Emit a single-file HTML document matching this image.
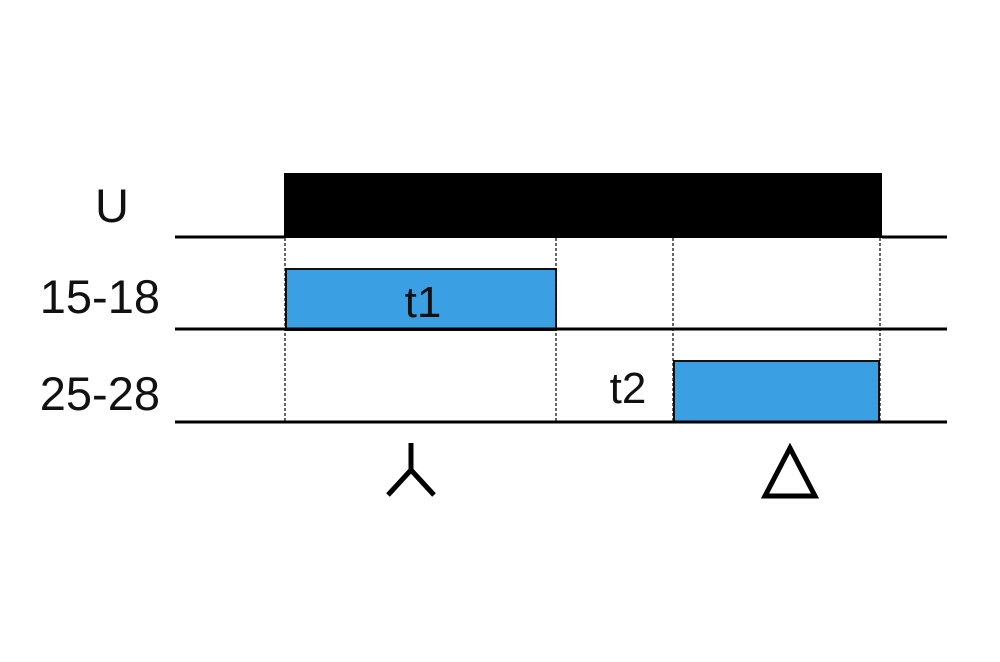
<!DOCTYPE html>
<html><head><style>body{margin:0;background:#fff}</style></head><body>
<svg width="1000" height="657" xmlns="http://www.w3.org/2000/svg" font-family="Liberation Sans, sans-serif">
<rect x="284" y="173" width="598" height="65" fill="#000"/>
<rect x="286" y="269" width="270" height="61" fill="#3b9fe3" stroke="#111" stroke-width="2"/>
<rect x="674" y="361" width="205" height="61" fill="#3b9fe3" stroke="#111" stroke-width="2"/>
<g stroke="#000" stroke-width="3">
<line x1="175" y1="237" x2="284" y2="237"/>
<line x1="882" y1="237" x2="947" y2="237"/>
<line x1="175" y1="329" x2="947" y2="329"/>
<line x1="175" y1="422" x2="947" y2="422"/>
</g>
<g stroke="#000" stroke-width="1.2" stroke-dasharray="3,2">
<line x1="285" y1="238" x2="285" y2="422"/>
<line x1="556" y1="238" x2="556" y2="422"/>
<line x1="673" y1="238" x2="673" y2="422"/>
<line x1="880" y1="238" x2="880" y2="422"/>
</g>
<g font-size="47" fill="#111">
<text x="112" y="222" text-anchor="middle">U</text>
<text x="160" y="313" text-anchor="end">15-18</text>
<text x="160" y="410" text-anchor="end">25-28</text>
<text x="423" y="317" text-anchor="middle" font-size="44">t1</text>
<text x="628" y="403" text-anchor="middle" font-size="44">t2</text>
</g>
<path d="M411 443 V470 L388 495 M411 470 L434 495" stroke="#000" stroke-width="5" fill="none"/>
<path d="M790 448 L765 496 L815 496 Z" stroke="#000" stroke-width="5" fill="none" stroke-linejoin="miter"/>
</svg>
</body></html>
